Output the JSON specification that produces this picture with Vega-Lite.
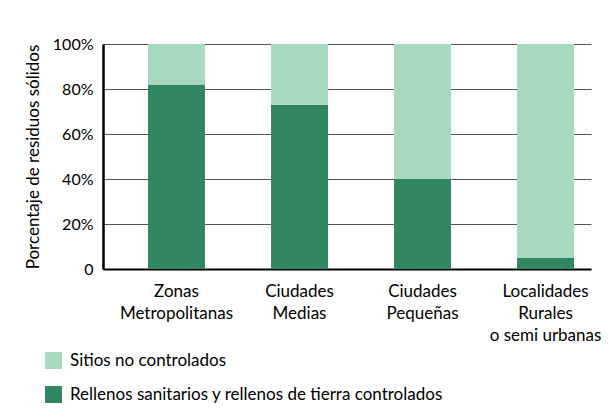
{
  "$schema": "https://vega.github.io/schema/vega-lite/v6.json",
  "autosize": "none",
  "width": 488,
  "height": 225,
  "padding": {"left": 103, "top": 44, "right": 25, "bottom": 149},
  "background": "white",
  "data": {
    "values": [
      {"zona": "Zonas|Metropolitanas", "tipo": "Rellenos sanitarios y rellenos de tierra controlados", "pct": 82},
      {"zona": "Zonas|Metropolitanas", "tipo": "Sitios no controlados", "pct": 18},
      {"zona": "Ciudades|Medias", "tipo": "Rellenos sanitarios y rellenos de tierra controlados", "pct": 73},
      {"zona": "Ciudades|Medias", "tipo": "Sitios no controlados", "pct": 27},
      {"zona": "Ciudades|Pequeñas", "tipo": "Rellenos sanitarios y rellenos de tierra controlados", "pct": 40},
      {"zona": "Ciudades|Pequeñas", "tipo": "Sitios no controlados", "pct": 60},
      {"zona": "Localidades|Rurales|o semi urbanas", "tipo": "Rellenos sanitarios y rellenos de tierra controlados", "pct": 5},
      {"zona": "Localidades|Rurales|o semi urbanas", "tipo": "Sitios no controlados", "pct": 95}
    ]
  },
  "mark": {"type": "bar"},
  "encoding": {
    "x": {
      "field": "zona",
      "type": "nominal",
      "sort": null,
      "scale": {"paddingInner": 0.537, "paddingOuter": 0.252, "align": 0.726},
      "axis": {
        "title": null,
        "labelAngle": 0,
        "labelExpr": "split(datum.label, '|')",
        "labelLineHeight": 22,
        "labelPadding": 14,
        "labelBaseline": "top",
        "labelFont": "Lato",
        "labelFontSize": 17,
        "labelColor": "black",
        "labelLimit": 200,
        "ticks": false,
        "domainColor": "black",
        "domainWidth": 2
      }
    },
    "y": {
      "field": "pct",
      "type": "quantitative",
      "stack": "zero",
      "scale": {"domain": [0, 100], "nice": false},
      "axis": {
        "title": "Porcentaje de residuos sólidos",
        "titleFont": "Lato",
        "titleFontSize": 17,
        "titleFontWeight": "normal",
        "titleColor": "black",
        "titlePadding": 10,
        "values": [0, 20, 40, 60, 80, 100],
        "labelExpr": "datum.value == 0 ? '0' : datum.value + '%'",
        "labelFont": "Lato",
        "labelFontSize": 16,
        "labelColor": "black",
        "labelPadding": 10,
        "ticks": false,
        "grid": true,
        "gridColor": "#555555",
        "gridWidth": 1,
        "domainColor": "black",
        "domainWidth": 2.5
      }
    },
    "order": {"field": "tipo", "type": "nominal", "sort": "ascending"},
    "color": {
      "field": "tipo",
      "type": "nominal",
      "scale": {
        "domain": ["Sitios no controlados", "Rellenos sanitarios y rellenos de tierra controlados"],
        "range": ["#a6d9be", "#2f8661"]
      },
      "legend": {
        "title": null,
        "orient": "none",
        "legendX": -58,
        "legendY": 308,
        "direction": "vertical",
        "symbolType": "square",
        "symbolSize": 289,
        "symbolStrokeWidth": 0,
        "symbolOpacity": 1,
        "labelFont": "Lato",
        "labelFontSize": 17,
        "labelColor": "black",
        "labelOffset": 8,
        "rowPadding": 16,
        "padding": 0,
        "labelLimit": 500
      }
    }
  },
  "config": {
    "view": {"stroke": null}
  }
}
